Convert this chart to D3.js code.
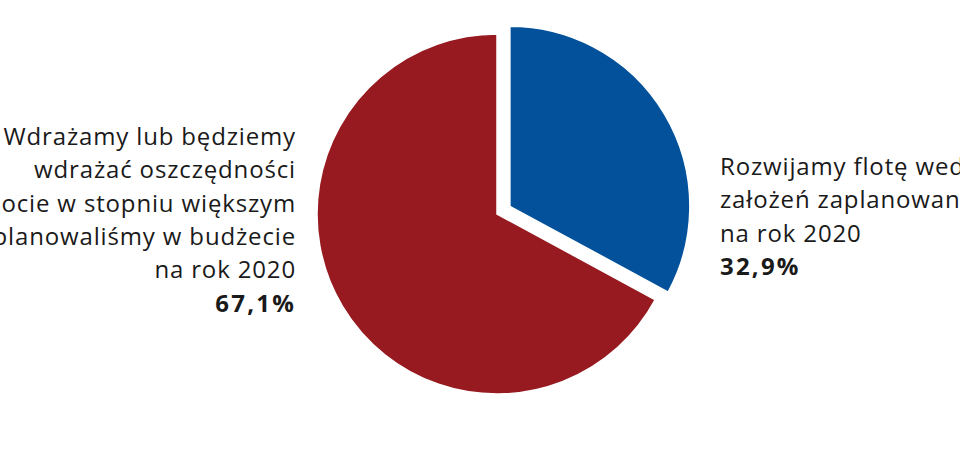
<!DOCTYPE html>
<html>
<head>
<meta charset="utf-8">
<script src="https://cdn.jsdelivr.net/npm/d3@7"></script>
<style>
  html, body { margin: 0; padding: 0; background: #fff; overflow: hidden; }
  svg { display: block; }
  text { font-family: "Open Sans", "Noto Sans", sans-serif; fill: #1a1a1a; }
</style>
</head>
<body>
<svg id="chart" width="960" height="460"></svg>
<script>
// Data
const categories = ["Rozwijamy flotę", "Wdrażamy oszczędności"];
const values = [32.9, 67.1];
const valueLabels = ["32,9%", "67,1%"];
const labelLines = [
  ["Rozwijamy flotę wed", "założeń zaplanowan", "na rok 2020"],
  ["Wdrażamy lub będziemy", "wdrażać oszczędności", "ocie w stopniu większym", "planowaliśmy w budżecie", "na rok 2020"]
];
const colors = ["#02519a", "#961a1f"];
const explode = [15, 0];

const svg = d3.select("#chart");
const cx = 497, cy = 214, R = 180;

const pie = d3.pie().sort(null).value(d => d.value).startAngle(0).endAngle(2 * Math.PI);
const arcs = pie(categories.map((c, i) => ({ name: c, value: values[i], i })));
const arc = d3.arc().innerRadius(0).outerRadius(R);

const g = svg.append("g").attr("transform", `translate(${cx},${cy})`);

g.selectAll("path")
  .data(arcs)
  .join("path")
  .attr("d", arc)
  .attr("fill", d => colors[d.data.i])
  .attr("stroke", "#fff")
  .attr("stroke-width", 1.5)
  .attr("transform", d => {
    const mid = (d.startAngle + d.endAngle) / 2;
    const off = explode[d.data.i];
    return `translate(${off * Math.sin(mid)},${-off * Math.cos(mid)})`;
  });

const fs = 24, lh = 33.3, ls = 0.85, lsBold = 2.2;

// Right label (blue slice)
const rt = svg.append("text")
  .attr("x", 720)
  .attr("y", 175)
  .attr("text-anchor", "start")
  .style("font-size", fs + "px")
  .style("letter-spacing", ls + "px");
labelLines[0].forEach((l, k) => {
  rt.append("tspan").attr("x", 720).attr("dy", k === 0 ? 0 : lh).text(l);
});
rt.append("tspan").attr("x", 720).attr("dy", lh)
  .style("font-weight", "700").style("letter-spacing", lsBold + "px").text(valueLabels[0]);

// Left label (red slice)
const lt = svg.append("text")
  .attr("x", 296)
  .attr("y", 145)
  .attr("text-anchor", "end")
  .style("font-size", fs + "px")
  .style("letter-spacing", ls + "px");
labelLines[1].forEach((l, k) => {
  lt.append("tspan").attr("x", 296).attr("dy", k === 0 ? 0 : lh).text(l);
});
lt.append("tspan").attr("x", 296).attr("dy", lh)
  .style("font-weight", "700").style("letter-spacing", lsBold + "px").text(valueLabels[1]);
</script>
</body>
</html>
